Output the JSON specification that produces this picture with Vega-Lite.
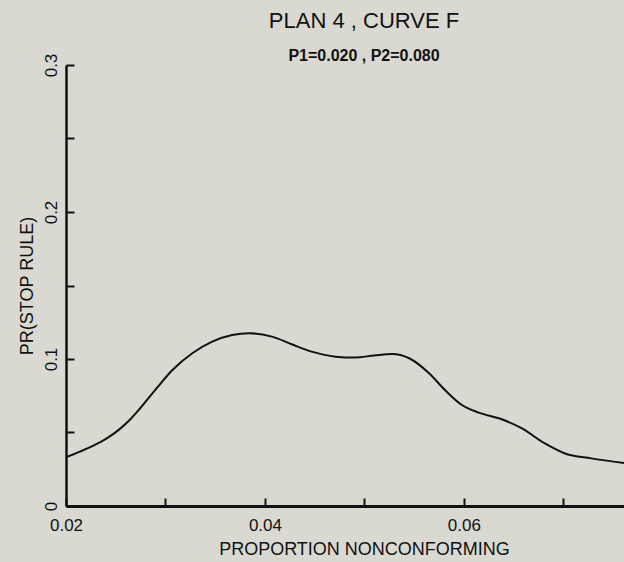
{
  "$schema": "https://vega.github.io/schema/vega-lite/v6.json",
  "width": 558,
  "height": 441,
  "autosize": {"type": "none"},
  "padding": {"left": 66, "top": 65, "right": 0, "bottom": 56},
  "background": "#d9d9d1",
  "config": {"view": {"stroke": null}, "font": "Liberation Sans"},
  "title": {
    "text": "PLAN 4 , CURVE F",
    "subtitle": "P1=0.020 , P2=0.080",
    "anchor": "middle",
    "dx": 19,
    "fontSize": 22,
    "fontWeight": "normal",
    "subtitleFontSize": 16,
    "subtitleFontWeight": "bold",
    "offset": -12,
    "subtitlePadding": 15,
    "color": "#111111",
    "subtitleColor": "#111111",
    "font": "Liberation Sans",
    "subtitleFont": "Liberation Sans"
  },
  "data": {
    "values": [
      {"p": 0.0200, "pr": 0.0331},
      {"p": 0.0214, "pr": 0.0370},
      {"p": 0.0228, "pr": 0.0412},
      {"p": 0.0241, "pr": 0.0460},
      {"p": 0.0253, "pr": 0.0518},
      {"p": 0.0264, "pr": 0.0585},
      {"p": 0.0274, "pr": 0.0660},
      {"p": 0.0291, "pr": 0.0800},
      {"p": 0.0307, "pr": 0.0925},
      {"p": 0.0327, "pr": 0.1039},
      {"p": 0.0347, "pr": 0.1118},
      {"p": 0.0367, "pr": 0.1163},
      {"p": 0.0384, "pr": 0.1175},
      {"p": 0.0407, "pr": 0.1152},
      {"p": 0.0427, "pr": 0.1100},
      {"p": 0.0447, "pr": 0.1050},
      {"p": 0.0471, "pr": 0.1016},
      {"p": 0.0490, "pr": 0.1010},
      {"p": 0.0510, "pr": 0.1024},
      {"p": 0.0528, "pr": 0.1034},
      {"p": 0.0545, "pr": 0.1005},
      {"p": 0.0565, "pr": 0.0903},
      {"p": 0.0581, "pr": 0.0789},
      {"p": 0.0598, "pr": 0.0687},
      {"p": 0.0615, "pr": 0.0635},
      {"p": 0.0638, "pr": 0.0590},
      {"p": 0.0658, "pr": 0.0529},
      {"p": 0.0681, "pr": 0.0427},
      {"p": 0.0701, "pr": 0.0359},
      {"p": 0.0728, "pr": 0.0324},
      {"p": 0.0761, "pr": 0.0293}
    ]
  },
  "mark": {"type": "line", "color": "#111111", "strokeWidth": 2, "clip": true, "interpolate": "monotone"},
  "encoding": {
    "x": {
      "field": "p",
      "type": "quantitative",
      "scale": {"domain": [0.02, 0.0761], "nice": false, "zero": false},
      "axis": {
        "values": [0.02, 0.03, 0.04, 0.05, 0.06, 0.07],
        "labelExpr": "round(datum.value*100) % 2 == 0 ? format(datum.value, '.2f') : ''",
        "grid": false,
        "domainColor": "#111111",
        "domainWidth": 3,
        "tickColor": "#111111",
        "tickWidth": 2,
        "tickSize": -8,
        "labelFontSize": 17,
        "labelColor": "#111111",
        "labelFlush": false,
        "labelPadding": 19,
        "title": "PROPORTION NONCONFORMING",
        "titleFontSize": 18,
        "titleFontWeight": "normal",
        "titleColor": "#111111",
        "titleX": 298,
        "titlePadding": 7
      }
    },
    "y": {
      "field": "pr",
      "type": "quantitative",
      "scale": {"domain": [0, 0.3], "nice": false},
      "axis": {
        "values": [0, 0.05, 0.1, 0.15, 0.2, 0.25, 0.3],
        "labelExpr": "round(datum.value*100) % 10 == 0 ? (datum.value == 0 ? '0' : format(datum.value, '.1f')) : ''",
        "labelAngle": -90,
        "grid": false,
        "domainColor": "#111111",
        "domainWidth": 2.5,
        "tickColor": "#111111",
        "tickWidth": 2,
        "tickSize": -8,
        "labelFontSize": 17,
        "labelColor": "#111111",
        "labelFlush": false,
        "labelPadding": 14,
        "title": "PR(STOP RULE)",
        "titleFontSize": 18,
        "titleFontWeight": "normal",
        "titleColor": "#111111",
        "titlePadding": 6
      }
    }
  }
}
